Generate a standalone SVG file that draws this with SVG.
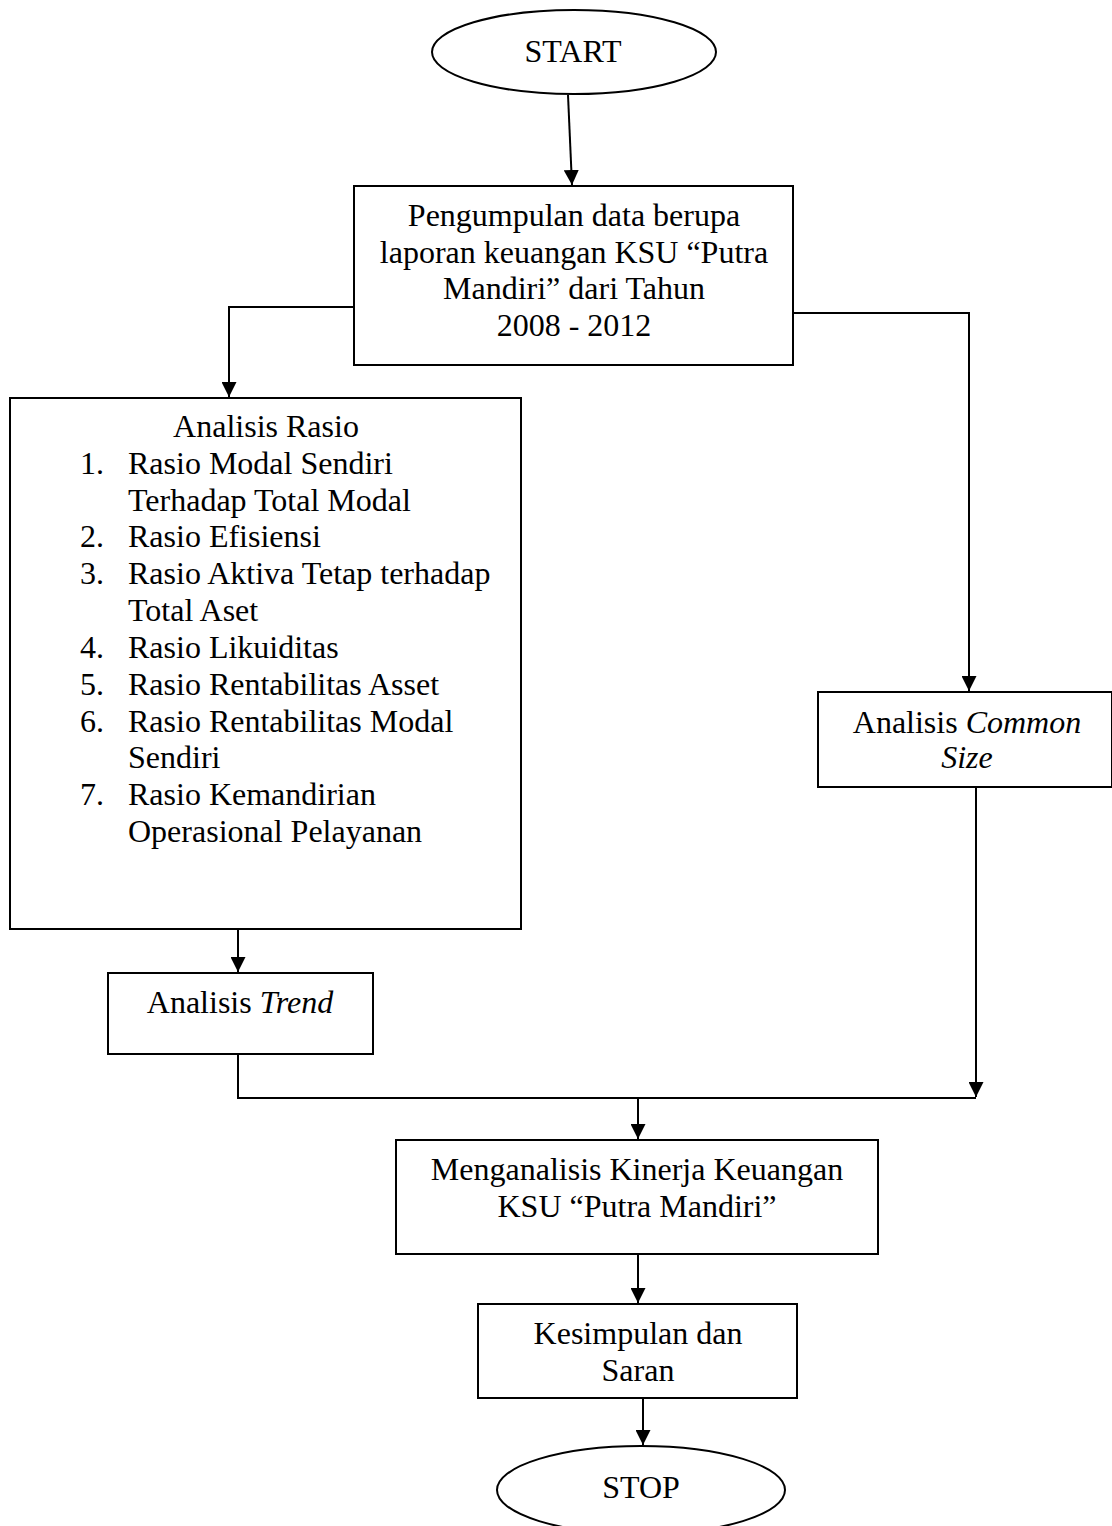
<svg xmlns="http://www.w3.org/2000/svg" width="1112" height="1526" viewBox="0 0 1112 1526">
<style>
.shape{fill:#fff;stroke:#000;stroke-width:2}
.conn{fill:none;stroke:#000;stroke-width:2}
text{font-family:"Liberation Serif","Times New Roman",serif;font-size:32px;fill:#000}
.c{text-anchor:middle}
.i{font-style:italic}
</style>
<defs>
<marker id="arr" viewBox="0 0 10 10" refX="10" refY="5" markerWidth="15" markerHeight="15" markerUnits="userSpaceOnUse" orient="auto">
<path d="M0,0 L10,5 L0,10 z" fill="#000"/>
</marker>
</defs>
<rect width="1112" height="1526" fill="#fff"/>
<g id="connectors">
<path class="conn" d="M568,95 L572,185" marker-end="url(#arr)"/>
<path class="conn" d="M354,307 H229 V397" marker-end="url(#arr)"/>
<path class="conn" d="M793,313 H969 V691" marker-end="url(#arr)"/>
<path class="conn" d="M238,929 V972" marker-end="url(#arr)"/>
<path class="conn" d="M238,1054 V1098 H976"/>
<path class="conn" d="M976,787 V1097" marker-end="url(#arr)"/>
<path class="conn" d="M638,1098 V1139" marker-end="url(#arr)"/>
<path class="conn" d="M638,1254 V1303" marker-end="url(#arr)"/>
<path class="conn" d="M643,1398 V1445" marker-end="url(#arr)"/>
</g>
<g id="start">
<ellipse class="shape" cx="574" cy="52" rx="142" ry="42"/>
<text class="c" x="573" y="62">START</text>
</g>
<g id="pengumpulan">
<rect class="shape" x="354" y="186" width="439" height="179"/>
<text class="c" x="574" y="226">Pengumpulan data berupa</text>
<text class="c" x="574" y="263">laporan keuangan KSU “Putra</text>
<text class="c" x="574" y="299">Mandiri” dari Tahun</text>
<text class="c" x="574" y="336">2008 - 2012</text>
</g>
<g id="rasio">
<rect class="shape" x="10" y="398" width="511" height="531"/>
<text class="c" x="266" y="437">Analisis Rasio</text>
<text x="80" y="474">1.</text><text x="128" y="474">Rasio Modal Sendiri</text>
<text x="128" y="511">Terhadap Total Modal</text>
<text x="80" y="547">2.</text><text x="128" y="547">Rasio Efisiensi</text>
<text x="80" y="584">3.</text><text x="128" y="584">Rasio Aktiva Tetap terhadap</text>
<text x="128" y="621">Total Aset</text>
<text x="80" y="658">4.</text><text x="128" y="658">Rasio Likuiditas</text>
<text x="80" y="695">5.</text><text x="128" y="695">Rasio Rentabilitas Asset</text>
<text x="80" y="732">6.</text><text x="128" y="732">Rasio Rentabilitas Modal</text>
<text x="128" y="768">Sendiri</text>
<text x="80" y="805">7.</text><text x="128" y="805">Rasio Kemandirian</text>
<text x="128" y="842">Operasional Pelayanan</text>
</g>
<g id="commonsize">
<rect class="shape" x="818" y="692" width="294" height="95"/>
<text class="c" x="967" y="733">Analisis <tspan class="i">Common</tspan></text>
<text class="c i" x="967" y="768">Size</text>
</g>
<g id="trend">
<rect class="shape" x="108" y="973" width="265" height="81"/>
<text class="c" x="240" y="1013">Analisis <tspan class="i">Trend</tspan></text>
</g>
<g id="menganalisis">
<rect class="shape" x="396" y="1140" width="482" height="114"/>
<text class="c" x="637" y="1180">Menganalisis Kinerja Keuangan</text>
<text class="c" x="637" y="1217">KSU “Putra Mandiri”</text>
</g>
<g id="kesimpulan">
<rect class="shape" x="478" y="1304" width="319" height="94"/>
<text class="c" x="638" y="1344">Kesimpulan dan</text>
<text class="c" x="638" y="1381">Saran</text>
</g>
<g id="stop">
<ellipse class="shape" cx="641" cy="1490" rx="144" ry="44"/>
<text class="c" x="641" y="1498">STOP</text>
</g>
</svg>
